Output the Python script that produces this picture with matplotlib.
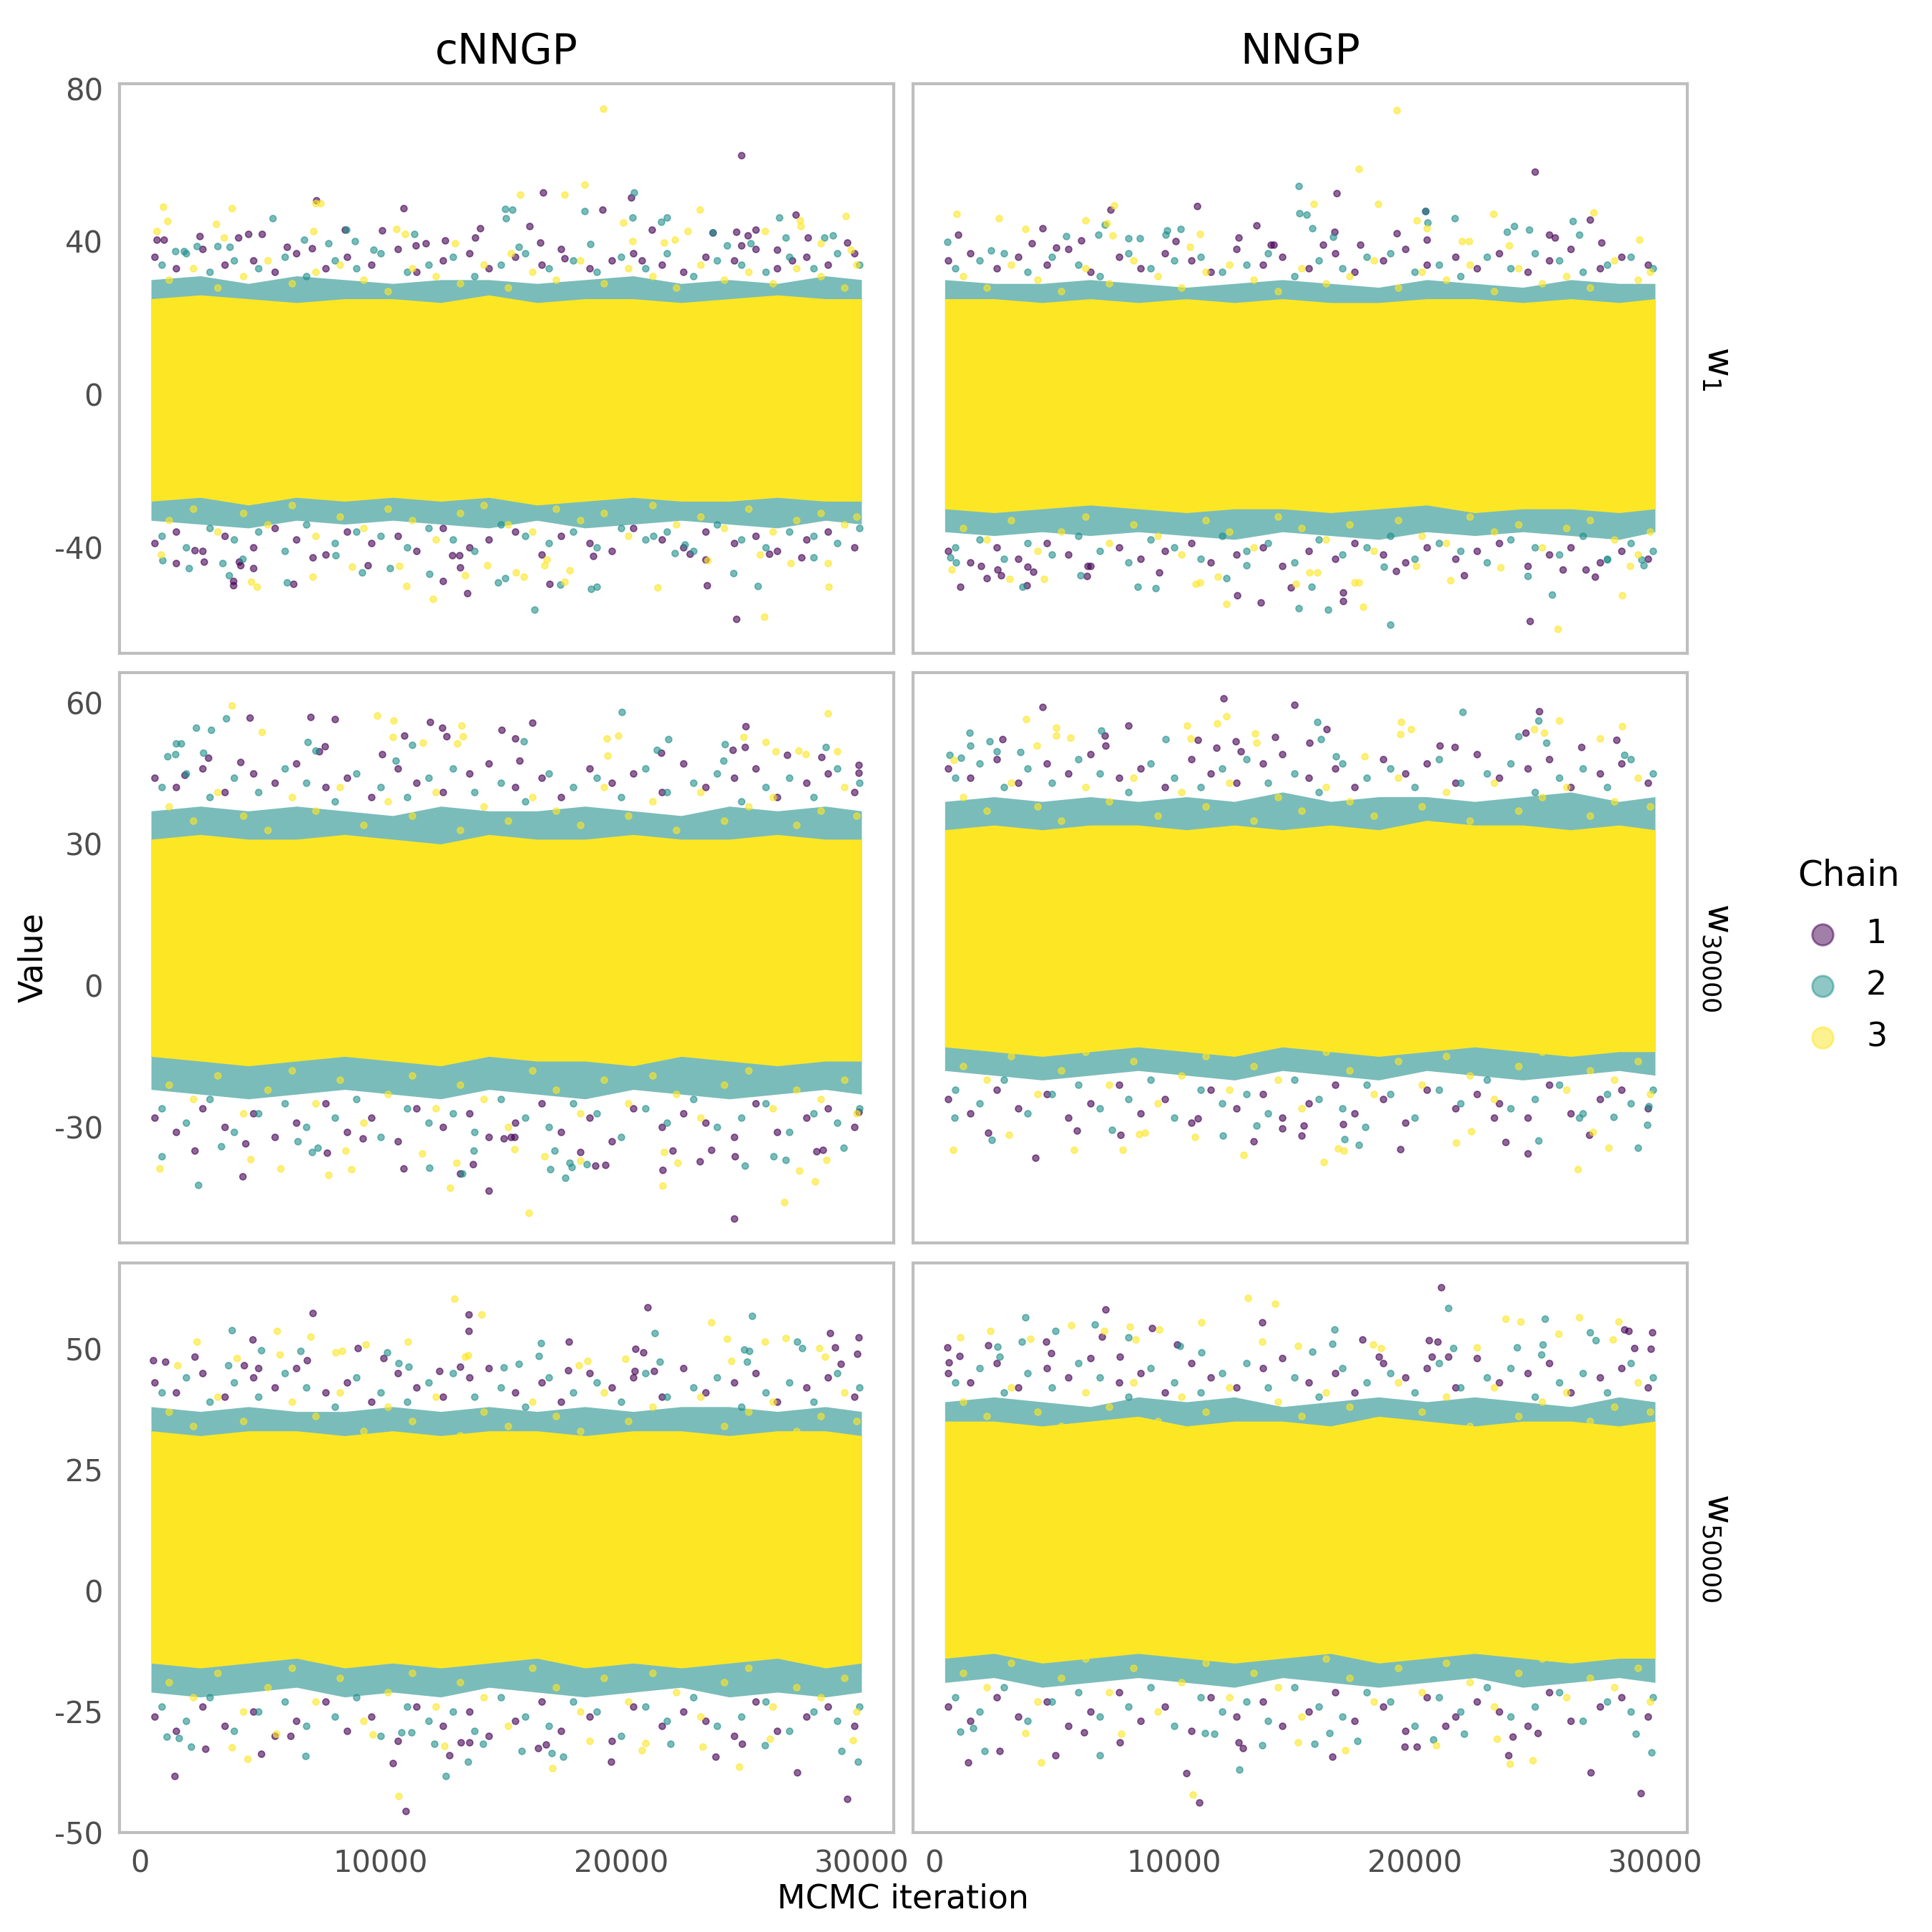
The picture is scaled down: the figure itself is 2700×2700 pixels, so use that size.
import matplotlib
matplotlib.use("Agg")
import matplotlib.pyplot as plt

plt.rcParams["mathtext.default"] = "regular"
plt.rcParams["axes.unicode_minus"] = False

# NOTE: the solid cloud (about 30000 overlapping samples per panel) cannot be read point by point.
# It is approximated by hand-estimated envelope bands and hand-estimated fringe samples;
# the isolated outer points.

# ---------- labels ----------
models = ["cNNGP", "NNGP"]
params = ["$w_{1}$", "$w_{30000}$", "$w_{50000}$"]
chains = ["1", "2", "3"]
x_ticks = [0, 10000, 20000, 30000]
y_ticks_w1 = [-40, 0, 40, 80]
y_ticks_w30000 = [-30, 0, 30, 60]
y_ticks_w50000 = [-50, -25, 0, 25, 50]

# ---------- envelope of the dense cloud, estimated at these iterations ----------
knots = [450, 2500, 4500, 6500, 8500, 10500, 12500, 14500, 16500, 18500, 20500, 22500, 24500, 26500, 28500, 30000]

a_outer_hi = [30, 31, 29, 31, 30, 29, 30, 30, 29, 30, 31, 29, 30, 29, 31, 30]
a_outer_lo = [-33, -34, -35, -33, -34, -33, -34, -35, -33, -35, -34, -33, -34, -35, -33, -34]
a_mid_hi = [25, 26, 25, 24, 25, 25, 24, 26, 24, 25, 25, 24, 25, 26, 25, 25]
a_mid_lo = [-28, -27, -29, -27, -28, -27, -28, -27, -29, -28, -27, -28, -28, -27, -28, -28]

b_outer_hi = [30, 29, 29, 30, 29, 28, 29, 30, 29, 28, 30, 29, 28, 30, 29, 29]
b_outer_lo = [-36, -37, -36, -37, -36, -37, -38, -36, -37, -38, -36, -37, -36, -37, -38, -36]
b_mid_hi = [25, 25, 24, 25, 24, 25, 24, 25, 24, 24, 25, 25, 24, 25, 24, 25]
b_mid_lo = [-30, -31, -30, -29, -30, -31, -30, -30, -31, -30, -29, -31, -30, -30, -31, -30]

c_outer_hi = [37, 38, 37, 38, 37, 36, 38, 37, 37, 38, 37, 36, 38, 37, 38, 37]
c_outer_lo = [-22, -23, -24, -23, -22, -23, -24, -22, -23, -24, -22, -23, -24, -23, -22, -23]
c_mid_hi = [31, 32, 31, 31, 32, 31, 30, 32, 31, 31, 32, 31, 31, 32, 31, 31]
c_mid_lo = [-15, -16, -17, -16, -15, -16, -17, -15, -16, -16, -17, -15, -16, -17, -16, -16]

d_outer_hi = [39, 40, 39, 40, 39, 40, 39, 41, 39, 40, 40, 39, 40, 41, 39, 40]
d_outer_lo = [-18, -19, -20, -19, -18, -19, -20, -18, -19, -20, -18, -19, -20, -19, -18, -19]
d_mid_hi = [33, 34, 33, 34, 34, 33, 34, 33, 34, 33, 35, 34, 34, 33, 34, 33]
d_mid_lo = [-13, -14, -15, -14, -13, -14, -15, -13, -14, -15, -14, -13, -14, -15, -14, -14]

e_outer_hi = [38, 37, 38, 37, 37, 38, 37, 38, 37, 38, 37, 38, 38, 37, 38, 37]
e_outer_lo = [-21, -22, -21, -20, -22, -21, -22, -20, -21, -22, -21, -20, -22, -21, -22, -21]
e_mid_hi = [33, 32, 33, 33, 32, 33, 32, 33, 33, 32, 33, 33, 32, 33, 33, 32]
e_mid_lo = [-15, -16, -15, -14, -16, -15, -16, -15, -14, -16, -15, -16, -15, -14, -16, -15]

f_outer_hi = [39, 40, 39, 38, 40, 39, 40, 38, 39, 40, 39, 40, 39, 38, 40, 39]
f_outer_lo = [-19, -18, -20, -19, -18, -19, -20, -18, -19, -20, -19, -18, -20, -19, -18, -19]
f_mid_hi = [35, 35, 34, 35, 36, 34, 35, 35, 34, 36, 35, 34, 35, 35, 34, 35]
f_mid_lo = [-14, -13, -15, -14, -13, -14, -15, -14, -13, -15, -14, -13, -14, -15, -14, -14]

# ---------- estimated fringe samples along the band edges ----------
fringe_iter_1 = [600, 1500, 2600, 3500, 4700, 5600, 6500, 7700, 8600, 9600, 10700, 11500, 12600, 13700, 14500, 15600, 16700, 17500, 18700, 19600, 20500, 21700, 22600, 23500, 24700, 25600, 26500, 27700, 28600, 29700]
fringe_iter_2 = [900, 1900, 2900, 3900, 4900, 6000, 6900, 8100, 9000, 10000, 11100, 12000, 13000, 13900, 15000, 16000, 17000, 18000, 19000, 20000, 21000, 21900, 23000, 24000, 25000, 26000, 27000, 28000, 29000, 29900]
fringe_iter_3 = [1200, 2200, 3200, 4300, 5300, 6300, 7300, 8300, 9300, 10300, 11300, 12300, 13300, 14300, 15300, 16300, 17300, 18300, 19300, 20300, 21300, 22300, 23300, 24300, 25300, 26300, 27300, 28300, 29300, 29800]

a1_hi = [36, 33, 38, 34, 35, 32, 37, 33, 36, 34, 38, 32, 35, 37, 33, 36, 34, 38, 33, 35, 37, 34, 32, 36, 35, 38, 33, 36, 34, 37]
a2_hi = [34, 37, 32, 35, 33, 36, 31, 35, 33, 37, 32, 34, 36, 31, 34, 37, 33, 35, 32, 36, 33, 37, 31, 35, 34, 32, 36, 33, 37, 34]
a3_hi = [30, 33, 28, 31, 35, 29, 32, 34, 30, 27, 33, 31, 29, 34, 28, 32, 30, 35, 29, 33, 31, 28, 34, 30, 32, 29, 33, 31, 28, 34]
a1_lo = [-39, -36, -41, -37, -40, -35, -38, -42, -36, -39, -37, -41, -35, -40, -38, -36, -42, -37, -39, -41, -35, -38, -40, -36, -39, -37, -41, -38, -36, -40]
a2_lo = [-37, -40, -35, -38, -36, -41, -34, -39, -36, -37, -40, -35, -38, -41, -34, -37, -39, -36, -40, -35, -38, -36, -41, -34, -38, -40, -36, -37, -39, -35]
a3_lo = [-33, -30, -36, -31, -34, -29, -37, -32, -35, -30, -33, -38, -31, -29, -34, -36, -30, -33, -31, -37, -29, -34, -32, -35, -30, -36, -33, -31, -34, -32]

b1_hi = [35, 37, 33, 36, 34, 38, 32, 36, 33, 37, 35, 32, 38, 34, 36, 33, 37, 32, 35, 38, 34, 36, 33, 37, 32, 35, 38, 33, 36, 34]
b2_hi = [33, 35, 37, 32, 36, 34, 31, 37, 33, 35, 36, 32, 34, 37, 31, 35, 33, 36, 37, 32, 34, 31, 36, 33, 37, 35, 32, 34, 36, 33]
b3_hi = [31, 28, 34, 30, 27, 33, 29, 35, 31, 28, 32, 34, 30, 27, 33, 29, 31, 35, 28, 32, 30, 34, 27, 33, 29, 31, 28, 35, 30, 32]
b1_lo = [-41, -44, -40, -43, -39, -42, -45, -40, -43, -41, -39, -44, -42, -40, -45, -41, -43, -39, -42, -44, -40, -43, -41, -39, -45, -42, -40, -44, -41, -43]
b2_lo = [-40, -38, -43, -39, -42, -37, -41, -44, -38, -40, -43, -37, -41, -39, -44, -38, -42, -40, -37, -43, -39, -41, -44, -38, -40, -42, -37, -43, -39, -41]
b3_lo = [-35, -38, -33, -41, -36, -32, -39, -34, -37, -42, -33, -36, -40, -32, -35, -38, -34, -41, -33, -37, -39, -32, -36, -34, -40, -35, -33, -38, -42, -36]

c1_hi = [44, 42, 46, 41, 45, 43, 47, 42, 44, 40, 46, 43, 41, 45, 47, 42, 44, 40, 46, 43, 45, 41, 47, 42, 44, 46, 40, 43, 45, 41]
c2_hi = [42, 45, 40, 44, 41, 46, 43, 39, 45, 42, 40, 44, 46, 41, 43, 39, 45, 42, 44, 40, 46, 41, 43, 45, 39, 42, 44, 40, 46, 43]
c3_hi = [38, 35, 41, 36, 33, 40, 37, 42, 34, 39, 36, 41, 33, 38, 35, 40, 37, 34, 42, 36, 39, 33, 41, 35, 38, 40, 34, 37, 42, 36]
c1_lo = [-28, -31, -26, -30, -27, -32, -29, -25, -31, -28, -33, -26, -30, -27, -32, -29, -25, -31, -28, -33, -26, -30, -27, -29, -32, -25, -31, -28, -26, -30]
c2_lo = [-26, -29, -24, -31, -27, -25, -30, -28, -24, -32, -26, -29, -27, -31, -24, -28, -30, -25, -27, -32, -26, -29, -24, -30, -28, -25, -31, -27, -29, -26]
c3_lo = [-21, -24, -19, -27, -22, -18, -25, -20, -29, -23, -19, -26, -21, -24, -30, -18, -22, -27, -20, -25, -19, -23, -28, -21, -18, -26, -22, -24, -20, -27]

d1_hi = [46, 44, 48, 43, 47, 45, 49, 44, 46, 42, 48, 45, 43, 47, 49, 44, 46, 42, 48, 45, 47, 43, 49, 44, 46, 48, 42, 45, 47, 43]
d2_hi = [44, 47, 42, 46, 43, 48, 45, 41, 47, 44, 42, 46, 48, 43, 45, 41, 47, 44, 46, 42, 48, 43, 45, 47, 41, 44, 46, 42, 48, 45]
d3_hi = [40, 37, 43, 38, 35, 42, 39, 44, 36, 41, 38, 43, 35, 40, 37, 42, 39, 36, 44, 38, 41, 35, 43, 37, 40, 42, 36, 39, 44, 38]
d1_lo = [-24, -27, -22, -26, -23, -28, -25, -21, -27, -24, -29, -22, -26, -23, -28, -25, -21, -27, -24, -29, -22, -26, -23, -25, -28, -21, -27, -24, -22, -26]
d2_lo = [-22, -25, -20, -27, -23, -21, -26, -24, -20, -28, -22, -25, -23, -27, -20, -24, -26, -21, -23, -28, -22, -25, -20, -26, -24, -21, -27, -23, -25, -22]
d3_lo = [-17, -20, -15, -23, -18, -14, -21, -16, -25, -19, -15, -22, -17, -20, -26, -14, -18, -23, -16, -21, -15, -19, -24, -17, -14, -22, -18, -20, -16, -23]

e1_hi = [43, 41, 45, 40, 44, 42, 46, 41, 43, 39, 45, 42, 40, 44, 46, 41, 43, 39, 45, 42, 44, 40, 46, 41, 43, 45, 39, 42, 44, 40]
e2_hi = [41, 44, 39, 43, 40, 45, 42, 38, 44, 41, 39, 43, 45, 40, 42, 38, 44, 41, 43, 39, 45, 40, 42, 44, 38, 41, 43, 39, 45, 42]
e3_hi = [37, 34, 40, 35, 32, 39, 36, 41, 33, 38, 35, 40, 32, 37, 34, 39, 36, 33, 41, 35, 38, 32, 40, 34, 37, 39, 33, 36, 41, 35]
e1_lo = [-26, -29, -24, -28, -25, -30, -27, -23, -29, -26, -31, -24, -28, -25, -30, -27, -23, -29, -26, -31, -24, -28, -25, -27, -30, -23, -29, -26, -24, -28]
e2_lo = [-24, -27, -22, -29, -25, -23, -28, -26, -22, -30, -24, -27, -25, -29, -22, -26, -28, -23, -25, -30, -24, -27, -22, -28, -26, -23, -29, -25, -27, -24]
e3_lo = [-19, -22, -17, -25, -20, -16, -23, -18, -27, -21, -17, -24, -19, -22, -28, -16, -20, -25, -18, -23, -17, -21, -26, -19, -16, -24, -20, -22, -18, -25]

f1_hi = [45, 43, 47, 42, 46, 44, 48, 43, 45, 41, 47, 44, 42, 46, 48, 43, 45, 41, 47, 44, 46, 42, 48, 43, 45, 47, 41, 44, 46, 42]
f2_hi = [43, 46, 41, 45, 42, 47, 44, 40, 46, 43, 41, 45, 47, 42, 44, 40, 46, 43, 45, 41, 47, 42, 44, 46, 40, 43, 45, 41, 47, 44]
f3_hi = [39, 36, 42, 37, 34, 41, 38, 43, 35, 40, 37, 42, 34, 39, 36, 41, 38, 35, 43, 37, 40, 34, 42, 36, 39, 41, 35, 38, 43, 37]
f1_lo = [-24, -27, -22, -26, -23, -28, -25, -21, -27, -24, -29, -22, -26, -23, -28, -25, -21, -27, -24, -29, -22, -26, -23, -25, -28, -21, -27, -24, -22, -26]
f2_lo = [-22, -25, -20, -27, -23, -21, -26, -24, -20, -28, -22, -25, -23, -27, -20, -24, -26, -21, -23, -28, -22, -25, -20, -26, -24, -21, -27, -23, -25, -22]
f3_lo = [-17, -20, -15, -23, -18, -14, -21, -16, -25, -19, -15, -22, -17, -20, -26, -14, -18, -23, -16, -21, -15, -19, -24, -17, -14, -22, -18, -20, -16, -23]

# ---------- individually visible samples: w1, cNNGP ----------
a1_iter = [25000, 16745, 20420, 7330, 19230, 10940, 16190, 14150, 27270, 24780, 13600, 6370, 3860, 3860, 4710, 12600, 17020, 23570, 13300, 9470, 4100, 4160, 2650, 1480, 22870, 26160, 27500, 23500, 18830, 12980, 13260, 7180, 2250, 670, 970, 2460, 4070, 4500, 5070, 10050, 8520, 12680, 13940, 16640, 21290, 23820, 24780, 25590, 25270, 27760, 29420, 11450, 11880, 17660, 7130, 6115, 20850, 25000, 26480, 27120]
a1_val = [62.6, 52.9, 51.6, 50.8, 48.3, 48.7, 44.1, 43.5, 47, -58.8, -52, -49.7, -50, -48.9, -45.6, -48.8, -49.7, -50, -45.3, -44.8, -43.9, -44.7, -43.9, -44.2, -41.7, -41.7, -42.7, -43.2, -42.3, -42.2, -42.2, -42.7, -40.8, 40.5, 40.5, 41.4, 41, 42, 41.9, 42.9, 43, 40.2, 41, 39.7, 43, 42.4, 42.5, 43, 41.5, 41, 39.7, 39, 39.5, 35.6, 38.3, 38.5, 35.1, 39, 37.8, 35.1]
a2_iter = [20530, 15170, 15490, 15210, 18470, 20470, 21910, 21680, 5500, 26590, 8560, 23820, 11390, 2350, 3200, 3730, 6820, 8940, 7840, 24400, 25380, 26840, 28440, 28820, 18720, 15750, 1820, 1460, 9690, 16400, 25700, 18760, 18980, 24670, 6090, 3690, 14870, 15170, 17470, 12020, 9220, 10390, 2010, 930, 4270, 3410, 8130, 28010, 22230, 21340, 22650]
a2_val = [52.9, 48.6, 48.3, 46.1, 48, 46.3, 46.2, 45.1, 46.1, 46.3, 43, 42.4, 41.9, 38.7, 38.7, 38.5, 40.5, 40.1, 39.5, 39, 39.5, 41, 41, 41.5, 39.3, 38.5, 37.4, 37.4, 37.9, -56.3, -50.2, -50.9, -50.3, -46.8, -49.2, -47.4, -49.3, -48.1, -49.8, -47, -46.7, -45.5, -45.5, -43.5, -43, -44.2, -42.2, -42.7, -41.5, -37, -39.3]
a3_iter = [19250, 18490, 15810, 17660, 7280, 7500, 23270, 950, 3800, 1120, 3160, 29350, 27440, 27460, 690, 7200, 20100, 22760, 25990, 10660, 11000, 3480, 20490, 22230, 21800, 28290, 29560, 15430, 13090, 25950, 12170, 21510, 28630, 4860, 4600, 7180, 11070, 17660, 15960, 15640, 13510, 28610, 27050, 10770, 8810, 14430, 17870, 25760, 23610, 860, 16810, 16910]
a3_val = [74.8, 54.9, 52.2, 52.3, 50, 50, 48.3, 49.1, 48.7, 45.3, 44.5, 46.6, 45.6, 44, 42.8, 42.7, 45, 42.8, 42.7, 43.3, 41.9, 41, 40, 40.5, 39.7, 39.5, 37.8, 37, 39.5, -58.3, -53.6, -50.5, -50.4, -50.4, -49.1, -47.7, -50.2, -49.1, -47.7, -46.6, -47.3, -44.2, -44.2, -45, -45.2, -44.7, -46, -41.9, -43.5, -41.9, -44.7, -43.2]

# ---------- w1, NNGP ----------
b1_iter = [25000, 16750, 10950, 7340, 20430, 13410, 27280, 4510, 16650, 19240, 1000, 12670, 10060, 25580, 25830, 6120, 4060, 5080, 16180, 14010, 14140, 17750, 20490, 27770, 1100, 3870, 2785, 2640, 2210, 1960, 3890, 4120, 6360, 6400, 9380, 12610, 13610, 14840, 17010, 17030, 24790, 27490, 27100, 22050, 19220, 26150]
b1_val = [58.3, 52.7, 49.2, 48.4, 48, 44.3, 45.8, 43.4, 42.5, 42.1, 41.8, 41, 40, 41.8, 41, 40.2, 39.5, 38.4, 39.2, 39.1, 39.1, 39.1, 40.4, 39.8, -50.3, -50, -47.4, -45.8, -48.2, -45, -45.2, -46.4, -47.6, -45, -46.7, -52.6, -54.5, -50.6, -51.8, -54.2, -59.4, -47.8, -45.8, -47.3, -46.2, -45.8]
b2_iter = [15180, 15200, 15500, 20430, 20520, 21660, 26570, 24130, 23850, 24750, 15730, 10270, 9650, 9690, 7100, 6850, 5510, 550, 8100, 8570, 26850, 16600, 2360, 18990, 15180, 16410, 25700, 24700, 8480, 9230, 3680, 6100, 12180, 15710, 29530, 29420, 910, 680, 18730, 28000, 13000]
b2_val = [54.5, 47.4, 47, 48, 45, 46, 45.4, 44, 42.5, 43, 43.4, 43.2, 41.7, 42.9, 44.4, 41.7, 41.4, 39.9, 40.9, 40.9, 41.7, 41.2, 37.6, -60.3, -56, -56.3, -52.4, -47.5, -50.4, -50.7, -50.4, -47.4, -48.1, -50.4, -44.7, -43.2, -44, -42.7, -45.2, -43.2, -44.7]
b3_iter = [19260, 17670, 15800, 18480, 7500, 960, 2700, 6290, 23280, 27450, 3800, 20090, 20500, 7210, 7440, 11080, 29360, 21960, 22260, 23940, 10650, 25960, 12180, 17840, 28640, 21500, 10900, 11080, 11800, 15070, 17500, 17670, 4590, 3150, 740, 20070, 28960, 23580, 15630, 15950]
b3_val = [74.4, 59, 49.9, 49.9, 49.4, 47.2, 46, 45.6, 47.2, 47.6, 43.3, 45.5, 43.4, 44.8, 41.6, 41.9, 40.5, 40.1, 40.1, 39, 38.5, -61.5, -54.9, -55.6, -52.6, -48.7, -49.6, -49.2, -47.7, -49.7, -49.3, -49.3, -48.4, -48.4, -45.8, -45, -44.9, -45.4, -46.7, -46.7]

# ---------- w30000, cNNGP ----------
c1_iter = [4540, 7090, 8090, 12050, 12560, 16320, 25190, 15020, 12750, 15600, 10980, 25160, 7670, 7450, 28330, 21680, 15770, 10070, 2840, 29880, 29880, 24630, 26910, 4160, 1860, 24700, 14490, 4270, 21720, 10960, 13300, 13850, 19360, 18930, 23270, 2270, 7770, 24740, 22150, 15110, 15430, 15570, 9260, 18300, 28120, 28400, 23760, 29880, 4370]
c1_val = [56.7, 56.9, 56.5, 55.8, 54.7, 55.7, 55, 54.2, 52.8, 52.4, 53, 50.6, 50.7, 49.7, 48.4, 49.4, 47.6, 49, 48.2, 46.7, 45.1, 49.9, 48.9, 47.3, 44.7, -49.3, -43.4, -40.4, -39.1, -38.7, -39.8, -37.9, -38, -38.1, -37.2, -35, -35.4, -36.2, -34.9, -32.3, -32.1, -32.1, -32.3, -35.2, -35.1, -34.8, -34.8, -26.8, -33.5]
c2_iter = [20040, 3580, 2310, 2950, 1500, 1710, 1140, 1460, 6960, 21970, 24330, 28500, 11320, 10640, 15960, 21490, 2610, 7300, 24270, 2420, 890, 12020, 17680, 13390, 17060, 17960, 17850, 18570, 25160, 6560, 7130, 7390, 13870, 17230, 29270, 26330, 26860, 3350]
c2_val = [58, 56.6, 54.6, 54.1, 51.3, 51.3, 48.6, 49, 51.6, 52.2, 51.1, 50.5, 51, 47.7, 51.7, 49.9, 49.4, 49.8, 47.7, -42.2, -36.1, -38.6, -40.7, -39.8, -38.9, -38.4, -37.6, -37.9, -38.2, -33, -35.2, -34.4, -35, -34.9, -34.3, -36.1, -36.9, -34]
c3_iter = [3820, 9860, 10540, 28610, 13360, 5070, 10500, 13410, 19890, 19400, 26010, 25100, 11770, 13190, 28990, 27370, 27690, 26440, 19440, 16170, 26800, 21720, 12900, 28080, 800, 5840, 8790, 7840, 27420, 4580, 22340, 28540, 11730, 13170, 16810, 18300, 8540, 21800, 15570]
c3_val = [59.3, 57.2, 56.2, 57.6, 55.1, 53.7, 52.7, 52.8, 52.9, 52.3, 51.6, 52.7, 51.5, 51.3, 49.6, 49.8, 49, 49.6, 48.7, -48.1, -45.8, -42.4, -42.8, -41.5, -38.7, -38.8, -38.9, -40.1, -39.2, -36.8, -37.6, -36.9, -35.5, -37.6, -36.1, -37.1, -34.9, -35.3, -34.6]

# ---------- w30000, NNGP ----------
d1_iter = [12060, 15010, 4530, 25190, 8100, 16330, 2850, 7100, 7140, 10990, 14180, 12560, 15610, 24620, 28380, 21030, 21660, 26940, 11760, 12760, 4230, 2250, 7760, 5950, 13290, 14480, 15290, 15370, 19390, 23770, 24700, 27260, 17010, 10970, 23300]
d1_val = [60.9, 59.5, 59.1, 58.1, 55.1, 54.4, 52.2, 53, 50.9, 52, 52.7, 51.7, 51.4, 53.5, 52, 50.9, 50.5, 50.5, 50.4, 49.7, -36.5, -31.1, -31.6, -30.7, -33, -30.3, -31.7, -29.6, -34.6, -33.2, -35.6, -31.6, -29.4, -28.2, -28]
d2_iter = [21980, 25150, 15950, 1470, 1510, 2320, 6970, 16110, 24320, 25470, 9650, 660, 1130, 3590, 2620, 28720, 16710, 870, 2400, 7420, 12030, 13420, 17070, 17690, 17940, 25150, 29280, 29660, 29740, 26850, 28260]
d2_val = [57.9, 56.2, 55.9, 53.5, 50.9, 51.8, 54, 52.2, 52.8, 51.4, 52.2, 48.8, 48.2, 49.5, 49.7, 48.9, 48.6, -28, -32.7, -30.5, -31.8, -29.7, -32.5, -33.8, -29.9, -32.9, -34.3, -29.5, -25.6, -27.9, -27.8]
d3_iter = [3830, 12180, 11780, 10540, 26000, 28640, 19430, 19390, 19860, 5080, 5080, 5680, 13370, 13420, 24980, 25380, 4270, 27700, 10690, 830, 17920, 26790, 16220, 790, 5830, 7850, 12880, 16820, 17050, 21730, 28080, 3130, 8530, 8780, 10860, 22350, 27410]
d3_val = [56.4, 57, 55.5, 55.1, 56.1, 55, 55.8, 53.2, 54.4, 54.6, 53, 52.5, 53.4, 51.4, 54.3, 53.6, 50.9, 52.3, 52.3, 47.8, 48.6, -38.9, -37.4, -34.8, -34.8, -34.8, -35.9, -34.5, -35, -33.3, -34.4, -31.6, -31.4, -31.1, -32, -30.9, -31]

# ---------- w50000, cNNGP ----------
e1_iter = [21100, 7160, 13660, 13660, 4670, 17830, 28690, 29880, 28900, 9050, 20610, 20930, 2250, 550, 6920, 10130, 29820, 29140, 1050, 4310, 4900, 12450, 13300, 17810, 20570, 21380, 1440, 11050, 29410, 27330, 10510, 19590, 5030, 2710, 12870, 23930, 16550, 16890, 13320, 13680, 25040, 6240]
e1_val = [58.6, 57.4, 57.1, 53.7, 51.9, 51.5, 53.2, 52.3, 50.3, 50.1, 50, 49.2, 48.4, 47.6, 47.6, 48.1, 48.9, 46.9, 47.3, 46.6, 45.9, 45.3, 46.3, 45.5, 45.4, 45.4, -38.3, -45.5, -43, -37.6, -35.7, -35.4, -33.7, -32.7, -34.1, -34.4, -32.5, -31.8, -31.3, -31.4, -31.7, -30.1]
e2_iter = [25440, 3800, 21400, 16660, 16570, 27310, 27520, 5030, 6670, 25120, 25330, 10260, 25250, 3650, 10750, 11170, 15750, 15110, 21610, 12700, 6880, 13640, 29860, 29180, 17590, 17110, 2100, 1100, 1610, 25990, 22060, 14260, 12240, 15850, 10860, 11280]
e2_val = [56.8, 53.8, 53.2, 51.1, 48.5, 51.5, 50.1, 49.7, 49.5, 49.8, 49.5, 49.2, 47.3, 46.6, 47, 46.3, 46.9, 46.1, 47.3, -38.3, -34.2, -35.3, -35.4, -33.1, -34.3, -33.6, -32.2, -30.2, -30.5, -32, -31.6, -31.6, -31.6, -33.1, -29.3, -29.3]
e3_iter = [13070, 14190, 23760, 5690, 7090, 2350, 11130, 24420, 25990, 26860, 9370, 28250, 8390, 8130, 5800, 13510, 13640, 20170, 4010, 18590, 18250, 1540, 24570, 28480, 10750, 17130, 24910, 4460, 3800, 20870, 21000, 23400, 29630, 9660, 5650, 18680, 12660, 26200]
e3_val = [60.3, 57, 55.5, 53.6, 52.5, 51.5, 51.5, 52.1, 51.5, 52.2, 50.9, 50.1, 49.5, 49.2, 48.8, 48.4, 48.6, 47.9, 48, 47.5, 46.5, 46.5, 47.5, 48.3, -42.4, -36.7, -36.4, -34.8, -32.4, -33, -31.5, -32.3, -30.9, -29.8, -29.6, -31.1, -32.1, -30.6]

# ---------- w50000, NNGP ----------
f1_iter = [21110, 7140, 13670, 9060, 7000, 17820, 20600, 20940, 28720, 28910, 29890, 550, 2250, 4660, 10120, 29150, 29830, 21390, 20710, 18520, 1060, 620, 7740, 4890, 11030, 29400, 27320, 10500, 1420, 2720, 5040, 16580, 19580, 20090, 23900, 12670, 12860, 7720, 6250, 21280, 25110, 24070]
f1_val = [62.6, 58.1, 55.5, 54.2, 52.5, 51.9, 51.8, 51.5, 54, 53.7, 53.3, 50.2, 50.7, 51.4, 50.8, 50.1, 50, 48.4, 48.3, 48.3, 48.5, 47.2, 48.3, 49, -43.8, -41.9, -37.6, -37.8, -35.5, -33.1, -34, -34.4, -32.2, -32.2, -34, -31.4, -32.5, -31.4, -29.3, -27.9, -29.5, -30.2]
f2_iter = [21410, 3810, 25430, 16670, 6680, 5060, 16580, 27300, 27530, 3640, 8100, 25320, 25260, 15730, 10230, 11120, 24260, 2720, 2640, 21600, 12710, 6890, 2110, 29850, 13650, 1100, 1620, 11270, 11650, 16470, 15840, 17620, 22050, 29190, 20770]
f2_val = [58.4, 56.5, 56.1, 53.9, 55, 53.6, 51, 53.3, 51.8, 51.4, 52.3, 50.8, 48.7, 49.4, 50.6, 49.2, 50.2, 48.4, 50.4, 50.1, -37, -34, -33.2, -33.5, -32, -29.2, -28.4, -29.5, -29.6, -29.5, -31.6, -31.1, -29.6, -29.6, -30.8]
f3_iter = [13050, 14200, 23770, 24410, 26850, 28490, 11120, 5700, 8140, 2340, 1100, 4000, 7080, 8400, 9380, 25980, 28230, 13650, 22600, 18260, 18600, 15160, 10760, 23960, 24920, 4470, 20880, 15160, 17120, 3790, 7780, 23410]
f3_val = [60.4, 59.2, 56.2, 55.6, 56.4, 55.6, 55.5, 54.9, 54.5, 53.6, 52.3, 52.1, 53.6, 51.9, 53.9, 53.1, 51.9, 51.5, 50.2, 50.8, 50.1, 50.5, -42.1, -35.8, -35.1, -35.5, -32, -31.4, -33, -29.5, -29.6, -30.7]

# ---------- figure ----------
W = H = 2700
col_px = [(167, 1249), (1276, 2358)]
row_px = [(117, 913), (940, 1737), (1765, 2561)]
xlims = [(-863, 31340), (-870, 31340)]
ylims = [(-67.8, 81.3), (-54.5, 66.3), (-50, 67.7)]
yticks = [y_ticks_w1, y_ticks_w30000, y_ticks_w50000]

YELLOW = "#FDE725"
TEAL = "#21908C"
PURPLE = "#440154"
palette = [PURPLE, TEAL, YELLOW]
SPINE = "#BEBEBE"
TICK = "#4D4D4D"
fringe_iters = [fringe_iter_1, fringe_iter_2, fringe_iter_3]

panels = [
    [dict(oh=a_outer_hi, ol=a_outer_lo, mh=a_mid_hi, ml=a_mid_lo, pts=[(a1_iter, a1_val), (a2_iter, a2_val), (a3_iter, a3_val)], hi=[a1_hi, a2_hi, a3_hi], lo=[a1_lo, a2_lo, a3_lo]),
     dict(oh=b_outer_hi, ol=b_outer_lo, mh=b_mid_hi, ml=b_mid_lo, pts=[(b1_iter, b1_val), (b2_iter, b2_val), (b3_iter, b3_val)], hi=[b1_hi, b2_hi, b3_hi], lo=[b1_lo, b2_lo, b3_lo])],
    [dict(oh=c_outer_hi, ol=c_outer_lo, mh=c_mid_hi, ml=c_mid_lo, pts=[(c1_iter, c1_val), (c2_iter, c2_val), (c3_iter, c3_val)], hi=[c1_hi, c2_hi, c3_hi], lo=[c1_lo, c2_lo, c3_lo]),
     dict(oh=d_outer_hi, ol=d_outer_lo, mh=d_mid_hi, ml=d_mid_lo, pts=[(d1_iter, d1_val), (d2_iter, d2_val), (d3_iter, d3_val)], hi=[d1_hi, d2_hi, d3_hi], lo=[d1_lo, d2_lo, d3_lo])],
    [dict(oh=e_outer_hi, ol=e_outer_lo, mh=e_mid_hi, ml=e_mid_lo, pts=[(e1_iter, e1_val), (e2_iter, e2_val), (e3_iter, e3_val)], hi=[e1_hi, e2_hi, e3_hi], lo=[e1_lo, e2_lo, e3_lo]),
     dict(oh=f_outer_hi, ol=f_outer_lo, mh=f_mid_hi, ml=f_mid_lo, pts=[(f1_iter, f1_val), (f2_iter, f2_val), (f3_iter, f3_val)], hi=[f1_hi, f2_hi, f3_hi], lo=[f1_lo, f2_lo, f3_lo])],
]

fig = plt.figure(figsize=(9, 9), dpi=300, facecolor="white")
MS = 4.6

for r, (top, bot) in enumerate(row_px):
    for c, (left, right) in enumerate(col_px):
        ax = fig.add_axes([left / W, 1 - bot / H, (right - left) / W, (bot - top) / H])
        p = panels[r][c]
        ax.fill_between(knots, p["ol"], p["oh"], color=TEAL, alpha=0.6, lw=0, zorder=1)
        ax.fill_between(knots, p["ml"], p["mh"], color=YELLOW, lw=0, zorder=2)
        for k in range(3):
            xs, ys = p["pts"][k]
            ax.scatter(xs, ys, s=MS, color=palette[k], alpha=0.6, linewidths=0.4, zorder=4 + k)
            ax.scatter(fringe_iters[k], p["hi"][k], s=MS, color=palette[k], alpha=0.6, linewidths=0.4, zorder=4 + k)
            ax.scatter(fringe_iters[k], p["lo"][k], s=MS, color=palette[k], alpha=0.6, linewidths=0.4, zorder=4 + k)
        ax.set_xlim(*xlims[c])
        ax.set_ylim(*ylims[r])
        ax.set_xticks(x_ticks)
        ax.set_yticks(yticks[r])
        ax.tick_params(length=0, labelsize=10, labelcolor=TICK, pad=5.5)
        if r < 2:
            ax.tick_params(labelbottom=False)
        if c > 0:
            ax.tick_params(labelleft=False)
        for s in ax.spines.values():
            s.set_color(SPINE)
            s.set_linewidth(1.0)

# overlay in reference pixel coordinates for titles, strips and legend
ov = fig.add_axes([0, 0, 1, 1], zorder=20)
ov.set_xlim(0, W)
ov.set_ylim(H, 0)
ov.axis("off")
ov.patch.set_alpha(0)

for (left, right), name in zip(col_px, models):
    ov.text((left + right) / 2, 72, name, ha="center", va="center", fontsize=14)
for (top, bot), lab in zip(row_px, params):
    ov.text(2400, (top + bot) / 2, lab, rotation=-90, ha="center", va="center", fontsize=12)
ov.text(1262, 2654, "MCMC iteration", ha="center", va="center", fontsize=11)
ov.text(47, 1338, "Value", rotation=90, ha="center", va="center", fontsize=11)

ov.text(2512, 1223, "Chain", ha="left", va="center", fontsize=12)
for k, (lab, yy) in enumerate(zip(chains, [1306, 1378, 1450])):
    ov.scatter([2547], [yy], s=50, color=palette[k], alpha=0.5, linewidths=0.7)
    ov.text(2608, yy, lab, ha="left", va="center", fontsize=11)

fig.savefig("out.png", dpi=300)
